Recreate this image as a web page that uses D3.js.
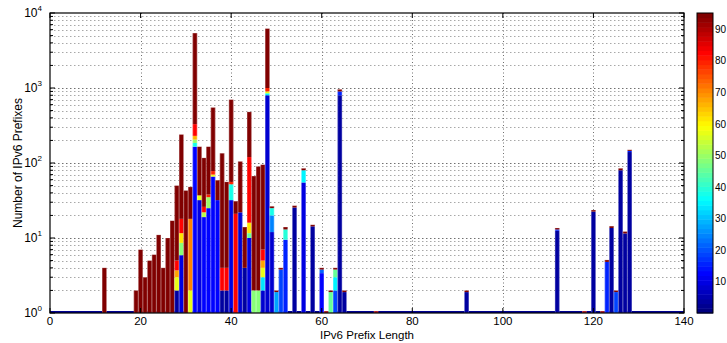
<!DOCTYPE html>
<html>
<head>
<meta charset="utf-8">
<script src="https://cdn.jsdelivr.net/npm/d3@7"></script>
<style>
  body { margin: 0; background: #fff; }
  text { font-family: "Liberation Sans", Arial, sans-serif; fill: #000; }
</style>
</head>
<body>
<figure id="hist" style="margin:0"></figure>
<script>
// prefix lengths that have bars
const prefixLen = [12, 19, 20, 21, 22, 23, 24, 25, 26, 27, 28, 29, 30, 31, 32, 33, 34, 35, 36, 37, 38, 39,
  40, 41, 42, 43, 44, 45, 46, 47, 48, 49, 50, 51, 52, 54, 56, 58, 60, 61, 62, 63, 64, 65, 72, 92,
  112, 118, 120, 122, 123, 124, 125, 126, 127, 128];

// for each prefix length: [count reached, colour value] from bottom to top
const stacks = [
  [[4, 95]],
  [[2, 95]],
  [[7, 95]],
  [[3, 95]],
  [[5, 95]],
  [[6, 95]],
  [[11, 95]],
  [[4, 95]],
  [[10, 95]],
  [[17, 95]],
  [[2, 3], [3, 57], [3.7, 68], [5, 82], [50, 95]],
  [[5.9, 10], [8.6, 48], [11.6, 62], [18, 82], [240, 95]],
  [[43, 95]],
  [[2, 57], [18, 70], [48, 95]],
  [[165, 12], [185, 38], [205, 50], [230, 66], [330, 82], [5400, 95]],
  [[32, 10], [37, 57], [165, 95]],
  [[19, 12], [22, 52], [26, 82], [117, 95]],
  [[25, 12], [35, 50], [38, 80], [165, 95]],
  [[66, 12], [70, 57], [78, 80], [550, 95]],
  [[32, 12], [59, 95]],
  [[2, 3], [4, 82], [135, 95]],
  [[2, 3], [4, 82], [56, 95]],
  [[32, 10], [52, 38], [56, 80], [700, 95]],
  [[21, 82], [31, 95]],
  [[22, 8], [105, 95]],
  [[4, 3], [14, 95]],
  [[10, 10], [11.6, 45], [16, 62], [120, 82], [480, 95]],
  [[2, 48], [67, 95]],
  [[2, 48], [90, 95]],
  [[2, 8], [3, 33], [4, 57], [5, 68], [7, 82], [95, 95]],
  [[800, 8], [850, 35], [900, 57], [1000, 80], [6200, 95]],
  [[12, 8], [20, 25], [25, 38], [26.5, 95]],
  [[1.9, 28], [2, 95]],
  [[3.8, 18], [4, 95]],
  [[9.5, 15], [13, 40], [14, 95]],
  [[25.5, 3], [27, 95]],
  [[55, 10], [80, 35], [85, 95]],
  [[14.3, 3], [15, 95]],
  [[3.4, 12], [3.8, 22], [4, 95]],
  [[1.06, 90]],
  [[1.9, 45], [2, 95]],
  [[2, 18], [3, 35], [3.8, 45], [4, 95]],
  [[800, 3], [900, 15], [960, 95]],
  [[1.9, 3], [2, 95]],
  [[1.06, 90]],
  [[1.9, 3], [2, 95]],
  [[12.5, 3], [13, 15], [13.6, 95]],
  [[1.06, 90]],
  [[22.5, 3], [23.6, 95]],
  [[1.06, 90]],
  [[4.8, 15], [5.1, 95]],
  [[13.6, 3], [14.4, 95]],
  [[1.9, 18], [2, 95]],
  [[80, 3], [85, 95]],
  [[11.5, 3], [12.2, 95]],
  [[140, 3], [145, 15], [150, 95]]
];

const xTicks = [0, 20, 40, 60, 80, 100, 120, 140];
const yDecades = [1, 10, 100, 1000, 10000];
const cbarTicks = [10, 20, 30, 40, 50, 60, 70, 80, 90];
const cbarDomain = [0, 95];

const W = 727, H = 343;
const plot = { left: 50, right: 684, top: 13, bottom: 313 };
const cbar = { left: 697, right: 713 };

// matlab jet, 64 levels
function jet(v) {
  let t = (v - cbarDomain[0]) / (cbarDomain[1] - cbarDomain[0]);
  t = Math.max(0, Math.min(1, t));
  t = Math.min(63, Math.floor(t * 64)) / 63;
  const c = a => Math.round(255 * Math.max(0, Math.min(1, a)));
  return d3.rgb(c(1.5 - Math.abs(4 * t - 3)), c(1.5 - Math.abs(4 * t - 2)), c(1.5 - Math.abs(4 * t - 1))).toString();
}

const svg = d3.select("figure#hist").append("svg")
  .attr("width", W).attr("height", H);

const x = d3.scaleLinear().domain([0, 140]).range([plot.left, plot.right]);
const y = d3.scaleLog().domain([1, 10000]).range([plot.bottom, plot.top]);

// grid
const grid = svg.append("g");
const minorVals = [];
yDecades.slice(0, -1).forEach(d => { for (let k = 2; k <= 9; k++) minorVals.push(d * k); });
grid.selectAll("line.minor").data(minorVals).enter().append("line")
  .attr("x1", plot.left).attr("x2", plot.right)
  .attr("y1", d => Math.round(y(d)) + 0.5).attr("y2", d => Math.round(y(d)) + 0.5)
  .attr("stroke", "#a8a8a8").attr("stroke-width", 1).attr("stroke-dasharray", "1.5,2.5");
grid.selectAll("line.major").data(yDecades.slice(1, -1)).enter().append("line")
  .attr("x1", plot.left).attr("x2", plot.right)
  .attr("y1", d => Math.round(y(d)) + 0.5).attr("y2", d => Math.round(y(d)) + 0.5)
  .attr("stroke", "#707070").attr("stroke-width", 1).attr("stroke-dasharray", "1.5,2.5");
grid.selectAll("line.vx").data(xTicks.slice(1, -1)).enter().append("line")
  .attr("x1", d => Math.round(x(d)) + 0.5).attr("x2", d => Math.round(x(d)) + 0.5)
  .attr("y1", plot.top).attr("y2", plot.bottom)
  .attr("stroke", "#707070").attr("stroke-width", 1).attr("stroke-dasharray", "1,2.5");

// baseline of the empty bars
svg.append("line")
  .attr("x1", plot.left).attr("x2", plot.right)
  .attr("y1", y(1) - 1).attr("y2", y(1) - 1)
  .attr("stroke", jet(2)).attr("stroke-width", 2);

// bars
const bw = x(1) - x(0);
const bars = svg.append("g");
prefixLen.forEach((p, i) => {
  const g = bars.append("g");
  let lo = 1;
  stacks[i].forEach(s => {
    g.append("rect")
      .attr("x", x(p - 0.5)).attr("width", bw)
      .attr("y", y(s[0])).attr("height", Math.max(0, y(lo) - y(s[0])))
      .attr("fill", jet(s[1]));
    lo = s[0];
  });
  g.append("rect")
    .attr("x", x(p - 0.5) + 0.3).attr("width", bw - 0.6)
    .attr("y", y(lo)).attr("height", y(1) - y(lo))
    .attr("fill", "none").attr("stroke", "rgba(255,255,255,0.35)").attr("stroke-width", 0.6);
});

// axes box and ticks
svg.append("rect")
  .attr("x", plot.left).attr("y", plot.top)
  .attr("width", plot.right - plot.left).attr("height", plot.bottom - plot.top)
  .attr("fill", "none").attr("stroke", "#000").attr("stroke-width", 1.2);

const ticks = svg.append("g").attr("stroke", "#000").attr("stroke-width", 1);
xTicks.forEach(d => {
  ticks.append("line").attr("x1", x(d)).attr("x2", x(d)).attr("y1", plot.bottom).attr("y2", plot.bottom - 5);
  ticks.append("line").attr("x1", x(d)).attr("x2", x(d)).attr("y1", plot.top).attr("y2", plot.top + 5);
});
yDecades.forEach(d => {
  ticks.append("line").attr("x1", plot.left).attr("x2", plot.left + 5).attr("y1", y(d)).attr("y2", y(d));
  ticks.append("line").attr("x1", plot.right).attr("x2", plot.right - 5).attr("y1", y(d)).attr("y2", y(d));
});
minorVals.forEach(d => {
  ticks.append("line").attr("x1", plot.left).attr("x2", plot.left + 3).attr("y1", y(d)).attr("y2", y(d));
  ticks.append("line").attr("x1", plot.right).attr("x2", plot.right - 3).attr("y1", y(d)).attr("y2", y(d));
});

// tick labels
svg.append("g").selectAll("text").data(xTicks).enter().append("text")
  .attr("x", d => x(d)).attr("y", 325)
  .attr("text-anchor", "middle").attr("font-size", 11.5)
  .text(d => d);

const yl = svg.append("g").selectAll("text").data(yDecades).enter().append("text")
  .attr("x", 42).attr("y", d => y(d) + 4)
  .attr("text-anchor", "end").attr("font-size", 12);
yl.append("tspan").text("10");
yl.append("tspan").attr("dy", -6).attr("font-size", 8).text(d => Math.round(Math.log10(d)));

// axis titles
svg.append("text")
  .attr("x", (plot.left + plot.right) / 2).attr("y", 339)
  .attr("text-anchor", "middle").attr("font-size", 11.5)
  .text("IPv6 Prefix Length");
svg.append("text")
  .attr("transform", "translate(22," + ((plot.top + plot.bottom) / 2) + ") rotate(-90)")
  .attr("text-anchor", "middle").attr("font-size", 12)
  .text("Number of IPv6 Prefixes");

// colour bar
const cy = d3.scaleLinear().domain(cbarDomain).range([plot.bottom, plot.top]);
const levels = d3.range(64).map(k => cbarDomain[0] + (cbarDomain[1] - cbarDomain[0]) * k / 64);
const step = (cbarDomain[1] - cbarDomain[0]) / 64;
svg.append("g").selectAll("rect").data(levels).enter().append("rect")
  .attr("x", cbar.left).attr("width", cbar.right - cbar.left)
  .attr("y", d => cy(d + step)).attr("height", d => cy(d) - cy(d + step) + 0.5)
  .attr("fill", d => jet(d + step / 2));
svg.append("rect")
  .attr("x", cbar.left).attr("y", plot.top)
  .attr("width", cbar.right - cbar.left).attr("height", plot.bottom - plot.top)
  .attr("fill", "none").attr("stroke", "#000").attr("stroke-width", 1);
cbarTicks.forEach(d => {
  ticks.append("line").attr("x1", cbar.right).attr("x2", cbar.right - 3).attr("y1", cy(d)).attr("y2", cy(d));
  ticks.append("line").attr("x1", cbar.left).attr("x2", cbar.left + 3).attr("y1", cy(d)).attr("y2", cy(d));
});
svg.append("g").selectAll("text").data(cbarTicks).enter().append("text")
  .attr("x", cbar.right + 2).attr("y", d => cy(d) + 4)
  .attr("font-size", 10)
  .text(d => d);
</script>
</body>
</html>
